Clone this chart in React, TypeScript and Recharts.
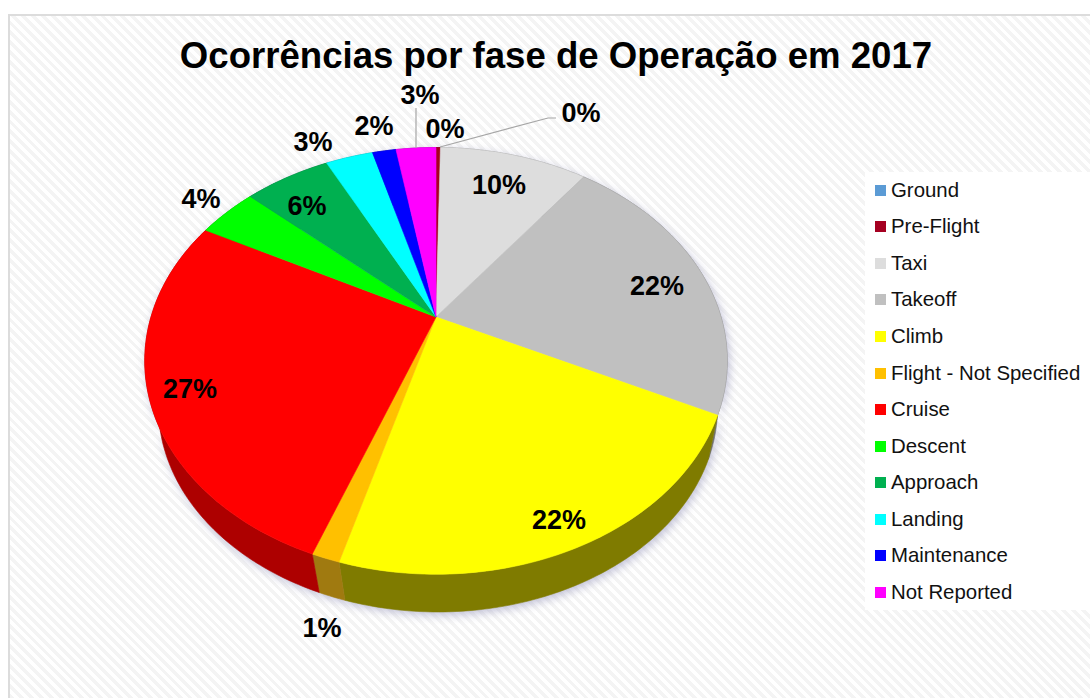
import React from 'react';
import { Legend, Pie, PieChart } from 'recharts';

const phases = ['Ground', 'Pre-Flight', 'Taxi', 'Takeoff', 'Climb', 'Flight - Not Specified', 'Cruise', 'Descent', 'Approach', 'Landing', 'Maintenance', 'Not Reported'];
const shares = [0, 0.3, 10, 21.9, 22.2, 1.3, 27, 4, 5.8, 3.2, 1.6, 2.7];
const topColors = ['#5b9bd5', '#a50021', '#dddddd', '#c0c0c0', '#ffff00', '#ffc000', '#ff0000', '#00ff00', '#00b050', '#00ffff', '#0000ff', '#ff00ff'];
const sideColors = ['#2e4e6b', '#600014', '#808080', '#707070', '#7f7b00', '#a07a10', '#ad0000', '#009000', '#006030', '#009090', '#000090', '#900090'];
// centre of each percentage label, in picture pixels
const labelSpots = [[445, 128], [581, 112], [499, 184], [657, 285], [559, 519], [322, 627], [190, 388], [201, 198], [307, 205], [313, 141], [374, 125], [420, 94]];

const chartData = phases.map((name, i) => ({ name, value: shares[i], fill: topColors[i], side: sideColors[i] }));

// perspective of the tilted disc
const TILT = 0.2056;
const SQUASH = 0.717;
const DEPTH = 48;
const BOTTOM_SCALE = 0.96;
const BOTTOM_SHIFT = 2;

const project = (cx: number, cy: number, r: number, deg: number) => {
  const rad = (deg * Math.PI) / 180;
  const u = Math.cos(rad);
  const v = -Math.sin(rad);
  const d = 1 - TILT * v;
  return [cx + (r * u) / d, cy + (r * SQUASH * v) / d];
};

const arcPoints = (p: any) => {
  const pts: number[][] = [];
  const steps = Math.max(1, Math.ceil(Math.abs(p.endAngle - p.startAngle)));
  for (let i = 0; i <= steps; i++) {
    const deg = p.startAngle + ((p.endAngle - p.startAngle) * i) / steps;
    pts.push(project(p.cx, p.cy, p.outerRadius, deg));
  }
  return pts;
};

const toPath = (pts: number[][]) => pts.map((q, i) => `${i ? 'L' : 'M'}${q[0].toFixed(2)},${q[1].toFixed(2)}`).join(' ') + ' Z';

const TopSector = (p: any) => (
  <path d={toPath([[p.cx, p.cy], ...arcPoints(p)])} fill={p.fill} stroke={p.fill} strokeWidth={0.6} />
);

const sidePath = (p: any) => {
  const top = arcPoints(p);
  const low = top
    .map((q) => [p.cx + BOTTOM_SHIFT + (q[0] - p.cx) * BOTTOM_SCALE, p.cy + DEPTH + (q[1] - p.cy) * BOTTOM_SCALE])
    .reverse();
  return toPath([...top, ...low]);
};

const SideSector = (p: any) => <path d={sidePath(p)} fill={p.side} stroke={p.side} strokeWidth={0.6} />;

const ShadowSector = (p: any) => (
  <path d={sidePath(p)} fill="#a9a9c8" opacity={0.75} transform="translate(2,3)" style={{ filter: 'blur(5px)' }} />
);

const renderLabel = (p: any) => {
  const [x, y] = labelSpots[p.index];
  return (
    <g key={p.name}>
      {p.name === 'Pre-Flight' && <polyline points="440,147 548,118 556,118" fill="none" stroke="#a6a6a6" strokeWidth={1.2} />}
      {p.name === 'Not Reported' && <line x1={416} y1={108} x2={416} y2={148} stroke="#a6a6a6" strokeWidth={1.2} />}
      <text x={x} y={y + 9.5} textAnchor="middle" fontFamily="Liberation Sans" fontWeight="bold" fontSize={27} fill="#000">
        {`${Math.round(p.value)}%`}
      </text>
    </g>
  );
};

const LegendBox = () => (
  <div style={{ background: '#fff', height: 438, fontFamily: 'Liberation Sans', fontSize: 20.4, color: '#111' }}>
    {phases.map((name, i) => (
      <div key={name} style={{ height: 36.55, display: 'flex', alignItems: 'center', paddingLeft: 10 }}>
        <span style={{ width: 11, height: 11, background: topColors[i], marginRight: 5, flex: 'none' }} />
        <span>{name}</span>
      </div>
    ))}
  </div>
);

export default function App() {
  const pieProps = {
    data: chartData,
    dataKey: 'value',
    nameKey: 'name',
    cx: 436,
    cy: 317,
    outerRadius: 285,
    startAngle: 90,
    endAngle: -270,
    isAnimationActive: false,
    stroke: 'none',
  };

  return (
    <div style={{ position: 'absolute', left: 0, top: 0, width: 1090, height: 698, overflow: 'hidden', background: '#fff' }}>
      <div
        style={{
          position: 'absolute',
          left: 8,
          top: 14,
          width: 1200,
          height: 800,
          border: '2px solid #dcdcdc',
          boxSizing: 'border-box',
          background: 'repeating-linear-gradient(45deg, #ffffff 0px, #ffffff 3.5px, #f4f4f4 3.5px, #f4f4f4 7px)',
        }}
      />
      <PieChart width={1090} height={698} margin={{ top: 0, right: 0, bottom: 0, left: 0 }} style={{ position: 'absolute', left: 0, top: 0 }}>
        <text x={556} y={68} textAnchor="middle" fontFamily="Liberation Sans" fontWeight="bold" fontSize={36.6} fill="#000">
          Ocorrências por fase de Operação em 2017
        </text>
        <Pie {...pieProps} legendType="none" shape={ShadowSector} />
        <Pie {...pieProps} legendType="none" shape={SideSector} />
        <Pie {...pieProps} shape={TopSector} label={renderLabel} labelLine={false} />
        <Legend
          layout="vertical"
          content={<LegendBox />}
          wrapperStyle={{ position: 'absolute', left: 865, top: 172, width: 225, height: 438 }}
        />
      </PieChart>
    </div>
  );
}
